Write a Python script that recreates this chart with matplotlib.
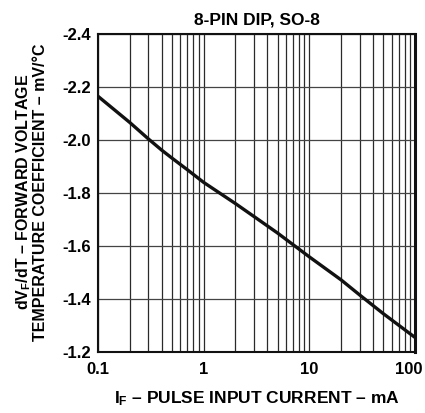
import matplotlib
matplotlib.use("Agg")
import matplotlib.pyplot as plt
import matplotlib.transforms as mtransforms
from matplotlib.ticker import FixedLocator, NullFormatter

plt.rcParams['font.family'] = ['Liberation Sans', 'DejaVu Sans']
plt.rcParams['font.weight'] = 'bold'
plt.rcParams['mathtext.fontset'] = 'custom'
plt.rcParams['mathtext.rm'] = 'Liberation Sans:bold'
plt.rcParams['mathtext.it'] = 'Liberation Sans:bold'
plt.rcParams['mathtext.bf'] = 'Liberation Sans:bold'
plt.rcParams['axes.unicode_minus'] = False

# Data
current_ma = [0.1, 0.2, 0.3, 0.4, 0.5, 0.7, 1, 2, 3, 5, 10, 20, 30, 50, 100]
temp_coeff = [-2.165, -2.066, -2.004, -1.962, -1.932, -1.888, -1.84, -1.76, -1.711,
              -1.649, -1.559, -1.472, -1.415, -1.345, -1.255]

x_ticks = [0.1, 1, 10, 100]
x_tick_labels = ["0.1", "1", "10", "100"]
y_ticks = [-2.4, -2.2, -2.0, -1.8, -1.6, -1.4, -1.2]
y_tick_labels = ["-2.4", "-2.2", "-2.0", "-1.8", "-1.6", "-1.4", "-1.2"]

title = "8-PIN DIP, SO-8"
x_label = r"I$_\mathrm{F}$ – PULSE INPUT CURRENT – mA"
y_label_1 = r"dV$_\mathrm{F}$/dT – FORWARD VOLTAGE"
y_label_2 = "TEMPERATURE COEFFICIENT – mV/°C"

W, H = 425, 413
fig = plt.figure(figsize=(W / 100, H / 100), dpi=100)
L, R, T, B = 98, 415, 34, 352
ax = fig.add_axes([L / W, 1 - B / H, (R - L) / W, (B - T) / H])

ax.set_xscale('log')
ax.set_xlim(0.1, 100)
ax.set_ylim(-1.2, -2.4)

minor = [m * d for d in [0.1, 1, 10] for m in range(2, 10)]
ax.set_xticks(x_ticks)
ax.set_xticklabels(x_tick_labels)
ax.xaxis.set_minor_locator(FixedLocator(minor))
ax.xaxis.set_minor_formatter(NullFormatter())
ax.set_yticks(y_ticks)
ax.set_yticklabels(y_tick_labels)

ax.grid(True, which='both', axis='x', color='#2a2a2a', lw=0.9)
ax.grid(True, which='major', axis='y', color='#444444', lw=0.9)
ax.tick_params(which='both', length=0, labelsize=12)
ax.tick_params(axis='y', pad=5)
ax.tick_params(axis='x', pad=7)
for lab in ax.get_xticklabels() + ax.get_yticklabels():
    lab.set_fontweight('bold')
# keep the last x label inside the picture, as in the reference
last = ax.get_xticklabels()[-1]
last.set_transform(last.get_transform() +
                   mtransforms.ScaledTranslation(-6 / 100, 0, fig.dpi_scale_trans))

for s in ax.spines.values():
    s.set_linewidth(1.5)
    s.set_color('#111111')
ax.spines['right'].set_linewidth(2.2)

ax.plot(current_ma, temp_coeff, color='#111111', lw=2.4, solid_capstyle='butt', zorder=5)

fig.text((L + R) / 2 / W, 1 - 20 / H, title, ha='center', va='center',
         fontsize=12.5, fontweight='bold')
fig.text((L + R) / 2 / W, 1 - 399 / H, x_label, ha='center', va='center',
         fontsize=12.5, fontweight='bold')
fig.text(24 / W, 1 - 192 / H, y_label_1, ha='center', va='center', rotation=90,
         fontsize=11.5, fontweight='bold')
fig.text(41 / W, 1 - 192 / H, y_label_2, ha='center', va='center', rotation=90,
         fontsize=11.5, fontweight='bold')

fig.savefig("out.png", dpi=100)
